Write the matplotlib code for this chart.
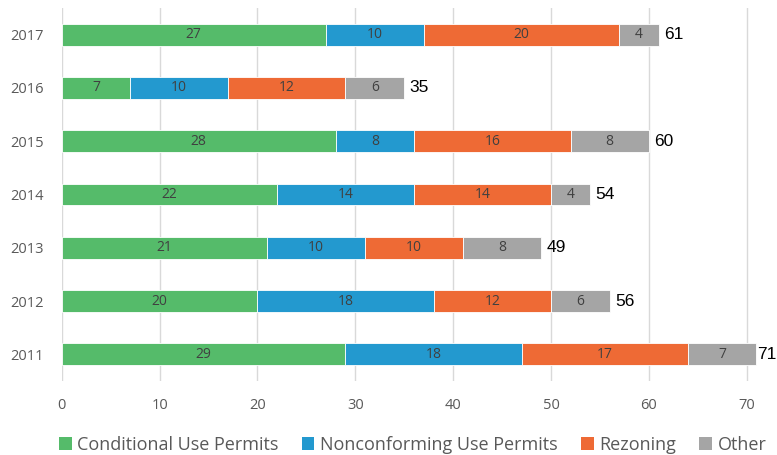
import matplotlib
matplotlib.use("Agg")
import matplotlib.pyplot as plt
import matplotlib.transforms as mtransforms
import numpy as np
from matplotlib.patches import Patch

years = ["2011", "2012", "2013", "2014", "2015", "2016", "2017"]
series_names = ["Conditional Use Permits", "Nonconforming Use Permits", "Rezoning", "Other"]
conditional = [29, 20, 21, 22, 28, 7, 27]
nonconforming = [18, 18, 10, 14, 8, 10, 10]
rezoning = [17, 12, 10, 14, 16, 12, 20]
other = [7, 6, 8, 4, 8, 6, 4]
colors = ["#55BB6A", "#2399CF", "#EE6A35", "#A5A5A5"]

plt.rcParams['font.family'] = ['Open Sans', 'DejaVu Sans']

fig = plt.figure(figsize=(7.77, 4.55), dpi=100)
ax = fig.add_axes([61.7/777, 1-381/455, 1-61.7/777, (381-8)/455])

y = np.arange(len(years))
left = np.zeros(len(years))
for vals, name, c in zip([conditional, nonconforming, rezoning, other], series_names, colors):
    ax.barh(y, vals, left=left, height=0.41, color=c, edgecolor='white', linewidth=0.6, label=name, zorder=3)
    for yi, l, v in zip(y, left, vals):
        ax.text(l + v/2, yi, str(v), ha='center', va='center', fontsize=10, color='#404040', zorder=4)
    left = left + np.array(vals)

total_texts = []
for yi, t in zip(y, left):
    total_texts.append(ax.text(t + 0.55, yi, str(int(t)), ha='left', va='center', fontsize=12.5,
                               color='black', family=['Liberation Sans', 'DejaVu Sans'], zorder=4,
                               clip_on=False))

ax.set_xlim(0, 73.1)
ax.set_ylim(-0.5, 6.5)
ax.set_yticks(y)
ax.set_yticklabels(years)
ax.set_xticks(range(0, 71, 10))
ax.tick_params(axis='both', length=0, labelsize=10.5, colors='#595959')
ax.tick_params(axis='x', pad=12)
ax.tick_params(axis='y', pad=13)
ax.xaxis.grid(True, color='#D9D9D9', linewidth=1, zorder=0)
for s in ax.spines.values():
    s.set_visible(False)

handles = [Patch(facecolor=c, label=n) for c, n in zip(colors, series_names)]
fig.legend(handles=handles, loc='center', bbox_to_anchor=(0.531, 1-445/455), ncol=4,
           frameon=False, fontsize=13, handlelength=0.7, handleheight=0.7, handletextpad=0.3,
           columnspacing=1.3, labelcolor='#595959')

# keep total labels inside the figure
fig.canvas.draw()
renderer = fig.canvas.get_renderer()
fig_w = fig.bbox.width
for txt in total_texts:
    bb = txt.get_window_extent(renderer)
    if bb.x1 > fig_w - 1:
        dx = (fig_w - 1 - bb.x1) / fig.dpi
        txt.set_transform(txt.get_transform() + mtransforms.ScaledTranslation(dx, 0, fig.dpi_scale_trans))

fig.savefig("out.png", dpi=100)
